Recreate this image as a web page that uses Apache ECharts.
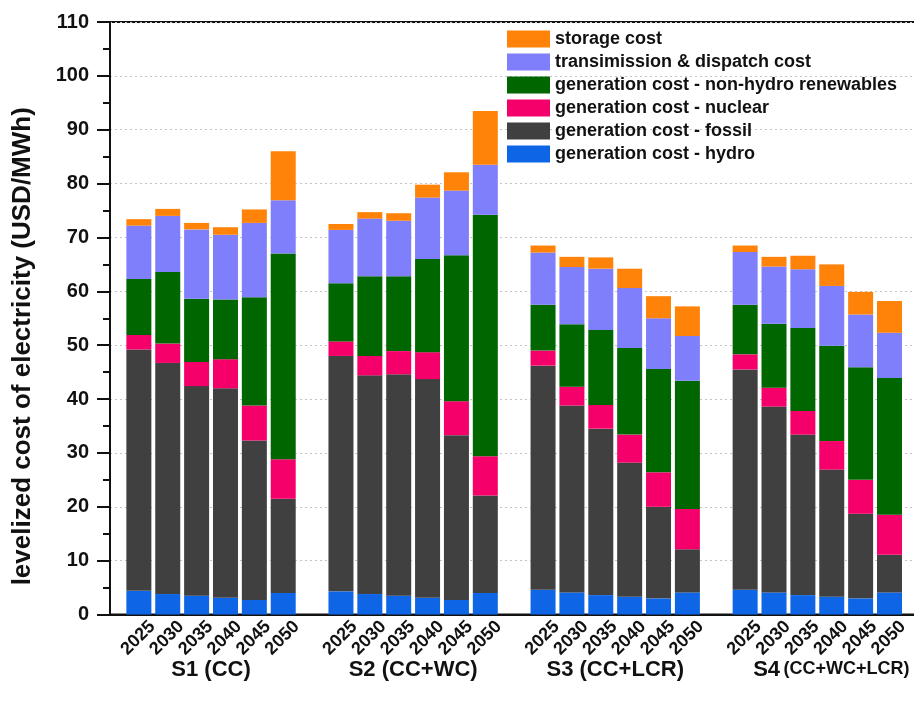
<!DOCTYPE html>
<html>
<head>
<meta charset="utf-8">
<script src="https://cdn.jsdelivr.net/npm/echarts@6/dist/echarts.min.js"></script>
<style>
  html, body { margin: 0; padding: 0; background: #ffffff; }
  #chart { width: 914px; height: 701px; }
</style>
</head>
<body>
<div id="chart"></div>
<script>
// Years shown for every scenario, and the scenario names
const years = ['2025', '2030', '2035', '2040', '2045', '2050'];
const scenarios = ['S1 (CC)', 'S2 (CC+WC)', 'S3 (CC+LCR)', 'S4 (CC+WC+LCR)'];

// Cost components (USD/MWh), 6 years per scenario, S1..S4 in order
const hydro = [4.4, 3.8, 3.5, 3.1, 2.7, 4.0,  4.3, 3.8, 3.5, 3.1, 2.7, 4.0,  4.6, 4.1, 3.6, 3.3, 3.0, 4.1,  4.6, 4.1, 3.6, 3.3, 3.0, 4.1];
const fossil = [44.8, 42.9, 38.9, 38.9, 29.6, 17.5,  43.7, 40.6, 41.1, 40.6, 30.6, 18.1,  41.6, 34.7, 30.9, 24.9, 17.0, 8.0,  40.9, 34.5, 29.8, 23.6, 15.7, 7.0];
const nuclear = [2.7, 3.6, 4.5, 5.4, 6.5, 7.3,  2.7, 3.6, 4.3, 5.0, 6.3, 7.3,  2.8, 3.5, 4.4, 5.2, 6.4, 7.5,  2.8, 3.5, 4.4, 5.3, 6.3, 7.4];
const renewables = [10.4, 13.3, 11.7, 11.1, 20.1, 38.2,  10.8, 14.8, 13.9, 17.3, 27.1, 44.8,  8.5, 11.6, 13.9, 16.1, 19.2, 23.8,  9.2, 11.9, 15.4, 17.7, 20.9, 25.4];
const transmission = [9.9, 10.4, 12.9, 12.0, 13.8, 9.9,  9.9, 10.7, 10.3, 11.4, 12.0, 9.3,  9.7, 10.6, 11.4, 11.1, 9.4, 8.3,  9.8, 10.6, 10.9, 11.1, 9.8, 8.4];
const storage = [1.2, 1.3, 1.2, 1.4, 2.5, 9.1,  1.1, 1.2, 1.4, 2.4, 3.4, 10.0,  1.3, 1.9, 2.1, 3.6, 4.1, 5.5,  1.2, 1.8, 2.5, 4.0, 4.2, 5.9];

// Y-axis ticks
const yMin = 0, yMax = 110, yStep = 10;

const components = [
  { name: 'generation cost - hydro', values: hydro, color: '#0e66e6' },
  { name: 'generation cost - fossil', values: fossil, color: '#404040' },
  { name: 'generation cost - nuclear', values: nuclear, color: '#f5006a' },
  { name: 'generation cost - non-hydro renewables', values: renewables, color: '#006600' },
  { name: 'transimission & dispatch cost', values: transmission, color: '#7f7ffb' },
  { name: 'storage cost', values: storage, color: '#ff8308' }
];

// Category slots: a blank slot before each scenario and one at the end
const categories = [''];
const slotIndex = [];
scenarios.forEach(function () {
  years.forEach(function (y) {
    slotIndex.push(categories.length);
    categories.push(y);
  });
  categories.push('');
});

function spread(values) {
  const out = categories.map(function () { return '-'; });
  values.forEach(function (v, i) { out[slotIndex[i]] = v; });
  return out;
}

const FONT = '"Liberation Sans", Arial, Helvetica, sans-serif';
const INK = '#111111';

const chart = echarts.init(document.getElementById('chart'), null, { renderer: 'canvas' });

const stepPx = 28.87;
chart.setOption({
  animation: false,
  backgroundColor: '#ffffff',
  textStyle: { fontFamily: FONT },
  grid: {
    left: 110, top: 22, bottom: 86.5,
    width: stepPx * (categories.length - 1),
    containLabel: false, outerBoundsMode: 'none',
    show: true, borderColor: INK, borderWidth: 2, backgroundColor: 'transparent'
  },
  legend: {
    orient: 'vertical', left: 507, top: 30, padding: 0,
    icon: 'rect', itemWidth: 43, itemHeight: 17, itemGap: 5,
    data: components.map(function (c) { return c.name; }).reverse(),
    textStyle: { fontFamily: FONT, fontSize: 18, fontWeight: 'bold', color: INK }
  },
  xAxis: [
    {
      type: 'category', data: categories, boundaryGap: false, position: 'bottom',
      axisLine: { show: true, lineStyle: { color: INK, width: 2 } },
      axisTick: { show: false },
      splitLine: { show: false },
      axisLabel: {
        interval: 0, rotate: 45, margin: 3, verticalAlign: 'top',
        padding: [5, -5, 0, 0],
        fontFamily: FONT, fontSize: 18, fontWeight: 'bold', color: INK
      }
    },
    {
      type: 'category', data: scenarios, boundaryGap: true, position: 'bottom', offset: 36,
      axisLine: { show: false }, axisTick: { show: false }, splitLine: { show: false },
      axisLabel: {
        interval: 0, margin: 8,
        formatter: function (v) {
          const k = v.indexOf(' ');
          return v.length > 12
            ? '{c|' + v.slice(0, k) + '} {b|' + v.slice(k + 1) + '}'
            : '{a|' + v + '}';
        },
        rich: {
          a: { fontFamily: FONT, fontSize: 22, fontWeight: 'bold', color: INK },
          c: { fontFamily: FONT, fontSize: 22, fontWeight: 'bold', color: INK, padding: [0, 0, 0, 28] },
          b: { fontFamily: FONT, fontSize: 18, fontWeight: 'bold', color: INK }
        }
      }
    }
  ],
  yAxis: {
    type: 'value', min: yMin, max: yMax, interval: yStep,
    name: 'levelized cost of electricity (USD/MWh)',
    nameLocation: 'middle', nameGap: 74,
    nameTextStyle: {
      fontFamily: FONT, fontSize: 26, fontWeight: 'bold', color: INK,
      padding: [0, 56, 0, 0]
    },
    axisLine: { show: true, lineStyle: { color: INK, width: 2 } },
    axisTick: { show: true, inside: false, length: 13, lineStyle: { color: INK, width: 2 } },
    minorTick: { show: true, splitNumber: 2, length: 7, lineStyle: { color: INK, width: 2 } },
    axisLabel: { margin: 21, fontFamily: FONT, fontSize: 20, fontWeight: 'bold', color: INK },
    splitLine: { show: true, lineStyle: { color: '#c4c4c4', width: 1, type: [2, 3] } }
  },
  series: components.map(function (c) {
    return {
      name: c.name, type: 'bar', stack: 'lcoe', xAxisIndex: 0,
      barWidth: 25, itemStyle: { color: c.color },
      data: spread(c.values)
    };
  })
});
</script>
</body>
</html>
